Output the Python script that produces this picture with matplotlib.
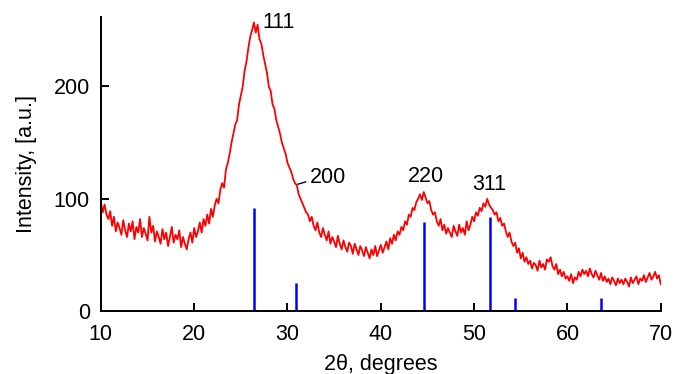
import numpy as np
from matplotlib import pyplot as plt

plt.rcParams["font.family"] = ["Liberation Sans", "DejaVu Sans"]

# measured pattern, 0.2 degree step from 10 to 70
two_theta = np.arange(10.0, 70.01, 0.2)
intensity = [
    97, 88, 95, 86, 82, 89, 76, 84, 71, 79,
    74, 68, 81, 72, 66, 78, 71, 80, 64, 75,
    70, 82, 66, 74, 69, 63, 84, 70, 76, 62,
    71, 66, 60, 73, 64, 70, 58, 66, 75, 61,
    68, 64, 72, 57, 66, 60, 55, 64, 70, 61,
    74, 66, 71, 79, 70, 82, 76, 86, 78, 91,
    84, 94, 100, 96, 108, 114, 110, 126, 132, 140,
    150, 158, 166, 170, 184, 192, 200, 214, 222, 234,
    244, 250, 257, 248, 255, 242, 238, 228, 220, 212,
    200, 196, 184, 180, 170, 164, 158, 150, 145, 140,
    132, 128, 124, 118, 114, 112, 104, 100, 96, 92,
    88, 86, 80, 84, 76, 72, 79, 70, 66, 74,
    68, 63, 71, 60, 66, 62, 57, 67, 60, 55,
    63, 57, 53, 61, 58, 51, 60, 55, 50, 58,
    54, 49, 57, 52, 47, 55, 50, 58, 49, 54,
    59, 52, 57, 62, 55, 65, 60, 68, 63, 71,
    68, 75, 72, 80, 77, 86, 84, 92, 90, 97,
    100, 104, 99, 106, 101, 96, 98, 90, 86, 88,
    80, 76, 82, 72, 77, 69, 74, 70, 66, 76,
    71, 67, 77, 70, 74, 68, 80, 72, 77, 84,
    80, 88, 85, 92, 89, 96, 93, 100, 95, 92,
    90, 86, 88, 80, 83, 76, 78, 71, 66, 70,
    62, 58, 61, 52, 56, 47, 52, 44, 48, 42,
    45, 38, 43, 41, 36, 45, 39, 42, 37, 46,
    44, 48, 40, 37, 42, 33, 37, 31, 35, 29,
    31, 27, 33, 25, 30, 28, 35, 31, 37, 33,
    36, 31, 38, 33, 30, 36, 32, 28, 34, 27,
    31, 26, 29, 24, 30, 27, 23, 29, 25, 28,
    24, 29, 26, 22, 30, 25, 28, 31, 24, 29,
    27, 32, 26, 30, 34, 28, 31, 35, 29, 32,
    24,
]

# reference line positions and heights
ref_pos = [26.4, 30.9, 44.6, 51.7, 54.4, 63.6]
ref_height = [92, 25, 79, 84, 12, 12]

# peak labels
labels = ["111", "220", "311"]
label_x = [27.3, 44.8, 51.6]
label_y = [257, 120, 113]
label_ha = ["left", "center", "center"]

fig = plt.figure(figsize=(6.77, 3.74), dpi=100)
ax = fig.add_axes([0.149, 0.168, 0.827, 0.787])

ax.plot(two_theta, intensity, color="#ff0000", lw=1.3)
ax.vlines(ref_pos, 0, ref_height, color="#0000ff", lw=1.8)

for t, x, y, ha in zip(labels, label_x, label_y, label_ha):
    ax.text(x, y, t, fontsize=15.5, ha=ha, va="center")
ax.annotate("200", xy=(31.1, 113), xytext=(32.4, 119), fontsize=15.5,
            ha="left", va="center",
            arrowprops=dict(arrowstyle="-", lw=1.0, color="black",
                            shrinkA=1, shrinkB=0, relpos=(0, 0.35)))

ax.set_xlim(10, 70)
ax.set_ylim(0, 262)
ax.set_xticks(range(10, 71, 10))
ax.set_yticks([0, 100, 200])
ax.tick_params(direction="in", labelsize=15.5, length=6, width=1.4)
ax.tick_params(axis="x", pad=9)
ax.tick_params(axis="y", pad=8)
ax.spines["top"].set_visible(False)
ax.spines["right"].set_visible(False)
ax.spines["left"].set_linewidth(1.4)
ax.spines["bottom"].set_linewidth(1.4)
ax.set_xlabel("2θ, degrees", fontsize=15.5, labelpad=7)
ax.set_ylabel("Intensity, [a.u.]", fontsize=15.5, labelpad=12)

fig.savefig("out.png", dpi=100)
